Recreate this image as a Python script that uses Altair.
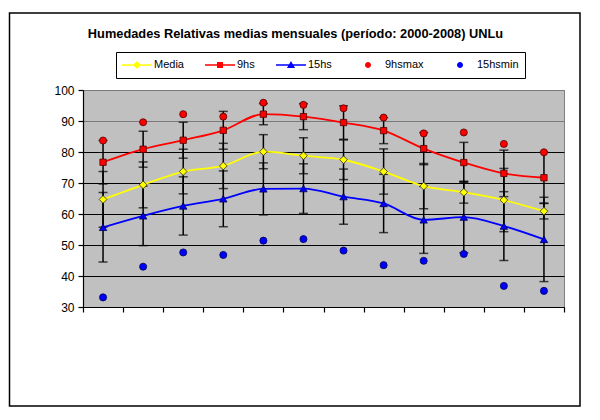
import altair as alt
import pandas as pd

months = list(range(1, 13))
media = [64.7, 69.4, 73.7, 75.5, 80.1, 78.8, 77.5, 73.7, 69.0, 67.0, 64.5, 60.9]
h9 = [76.7, 80.9, 83.8, 87.0, 92.2, 91.4, 89.5, 86.9, 81.1, 76.6, 73.1, 71.7]
h15 = [55.7, 59.4, 62.6, 64.9, 68.1, 68.2, 65.6, 63.4, 58.1, 59.0, 56.1, 51.8]
h9max = [83.7, 89.6, 92.2, 91.4, 95.9, 95.2, 94.1, 91.1, 86.0, 86.3, 82.6, 79.9]
h15min = [33.1, 43.0, 47.6, 46.8, 51.4, 51.9, 48.2, 43.5, 44.9, 47.1, 36.8, 35.2]
err_media = [9.0, 7.4, 7.2, 7.3, 5.5, 5.8, 6.4, 7.3, 7.3, 3.5, 10.2, 2.5]
err_h9 = [7.0, 5.8, 5.8, 6.1, 3.4, 4.2, 5.4, 4.2, 5.2, 6.5, 7.5, 8.2]
err_h15 = [11.2, 9.6, 9.4, 9.0, 8.4, 8.0, 8.9, 9.4, 10.8, 11.5, 11.1, 13.6]

series_names = ["Media", "9hs", "15hs", "9hsmax", "15hsmin"]
series_colors = ["#FFFF00", "#FF0000", "#0000FF", "#FF0000", "#0000FF"]
title_text = "Humedades Relativas medias mensuales (período: 2000-2008) UNLu"

rows = []
for name, vals, errs in [
    ("Media", media, err_media),
    ("9hs", h9, err_h9),
    ("15hs", h15, err_h15),
    ("9hsmax", h9max, [0] * 12),
    ("15hsmin", h15min, [0] * 12),
]:
    for m, v, e in zip(months, vals, errs):
        rows.append({"month": m, "series": name, "value": v, "err": e})
df = pd.DataFrame(rows)

FONT = "Liberation Sans"

xscale = alt.Scale(domain=[0.5, 12.5], nice=False, zero=False)
xaxis = alt.Axis(values=[0.5 + i for i in range(13)], labels=False, grid=False,
                 title=None, tickSize=5)
yscale = alt.Scale(domain=[30, 100], nice=False, zero=False)
yaxis = alt.Axis(values=list(range(30, 101, 10)), title=None, grid=True,
                 gridColor=alt.condition("datum.value >= 90", alt.value("#7a7a7a"), alt.value("#000000")),
                 tickSize=5, labelPadding=4)

X = alt.X("month:Q", scale=xscale, axis=xaxis)

base = alt.Chart(df)

err_base = base.transform_filter("datum.err > 0").transform_calculate(
    lo="datum.value - datum.err", hi="datum.value + datum.err")

err_rule = err_base.mark_rule(color="black", strokeWidth=1.5).encode(
    x=X, y=alt.Y("lo:Q", scale=yscale, axis=yaxis), y2="hi:Q")
cap_lo = err_base.mark_tick(orient="horizontal", size=9, thickness=1.5, color="black").encode(
    x=X, y=alt.Y("lo:Q", scale=yscale, axis=yaxis))
cap_hi = err_base.mark_tick(orient="horizontal", size=9, thickness=1.5, color="black").encode(
    x=X, y=alt.Y("hi:Q", scale=yscale, axis=yaxis))

Y = alt.Y("value:Q", scale=yscale, axis=yaxis)

layers = [err_rule, cap_lo, cap_hi]
for name, color in [("Media", "#FFFF00"), ("9hs", "#FF0000"), ("15hs", "#0000FF")]:
    layers.append(
        base.transform_filter(alt.datum.series == name)
        .mark_line(color=color, strokeWidth=1.8, interpolate="monotone")
        .encode(x=X, y=Y)
    )

point_styles = [
    ("Media", "diamond", "#FFFF00", "#333300", 60),
    ("9hs", "square", "#FF0000", "#550000", 40),
    ("15hs", "triangle-up", "#0000FF", "#000055", 55),
    ("9hsmax", "circle", "#FF0000", "#550000", 50),
    ("15hsmin", "circle", "#0000FF", "#000055", 50),
]
for name, shape, fill, stroke, size in point_styles:
    layers.append(
        base.transform_filter(alt.datum.series == name)
        .mark_point(filled=True, shape=shape, fill=fill, stroke=stroke,
                    strokeWidth=0.8, size=size, opacity=1)
        .encode(x=X, y=Y)
    )

legend_paths = [
    "M-1,-0.05H1V0.05H-1Z M0,-0.27L0.27,0L0,0.27L-0.27,0Z",
    "M-1,-0.05H1V0.05H-1Z M-0.2,-0.2H0.2V0.2H-0.2Z",
    "M-1,-0.05H1V0.05H-1Z M0,-0.27L0.27,0.2L-0.27,0.2Z",
    "M-0.2,0A0.2,0.2,0,1,1,0.2,0A0.2,0.2,0,1,1,-0.2,0Z",
    "M-0.2,0A0.2,0.2,0,1,1,0.2,0A0.2,0.2,0,1,1,-0.2,0Z",
]
legend_layer = base.mark_point(filled=True, opacity=0, size=10).encode(
    x=X, y=Y,
    color=alt.Color("series:N", scale=alt.Scale(domain=series_names, range=series_colors),
                    legend=alt.Legend(title=None)),
    shape=alt.Shape("series:N", scale=alt.Scale(domain=series_names, range=legend_paths),
                    legend=alt.Legend(title=None)),
)
layers.append(legend_layer)

frame = alt.Chart(alt.Data(values=[{"a": 1}])).mark_rect(
    fillOpacity=0, stroke="black", strokeWidth=1.5).encode(
    x=alt.value(-73.5), x2=alt.value(497), y=alt.value(-77), y2=alt.value(316))
layers.append(frame)

chart = alt.layer(*layers).properties(
    width=481, height=217,
    padding={"left": 75, "top": 82, "right": 28, "bottom": 101},
    autosize=alt.AutoSizeParams(type="none"),
    title=alt.TitleParams(text=title_text, font=FONT, fontSize=12.8, fontWeight="bold",
                          anchor="middle", frame="group", offset=-42, dx=-28,
                          baseline="bottom", color="black"),
    background="white",
).configure_view(
    fill="#C0C0C0", stroke="#808080", strokeWidth=1
).configure_axis(
    domainColor="black", tickColor="black", labelColor="black", labelFont=FONT,
    labelFontSize=12, domainWidth=1.2, tickWidth=1.2, gridWidth=1, gridOpacity=1
).configure_legend(
    orient="none", legendX=33, legendY=-38, direction="horizontal",
    symbolSize=900, clipHeight=14, padding=6, strokeColor="black", fillColor="white",
    labelFont=FONT, labelFontSize=11, labelColor="black", labelOffset=2,
    columnPadding=21, symbolOpacity=1, symbolStrokeWidth=0, cornerRadius=0
)

chart.save("out.html", embed_options={"renderer": "svg", "actions": False})
